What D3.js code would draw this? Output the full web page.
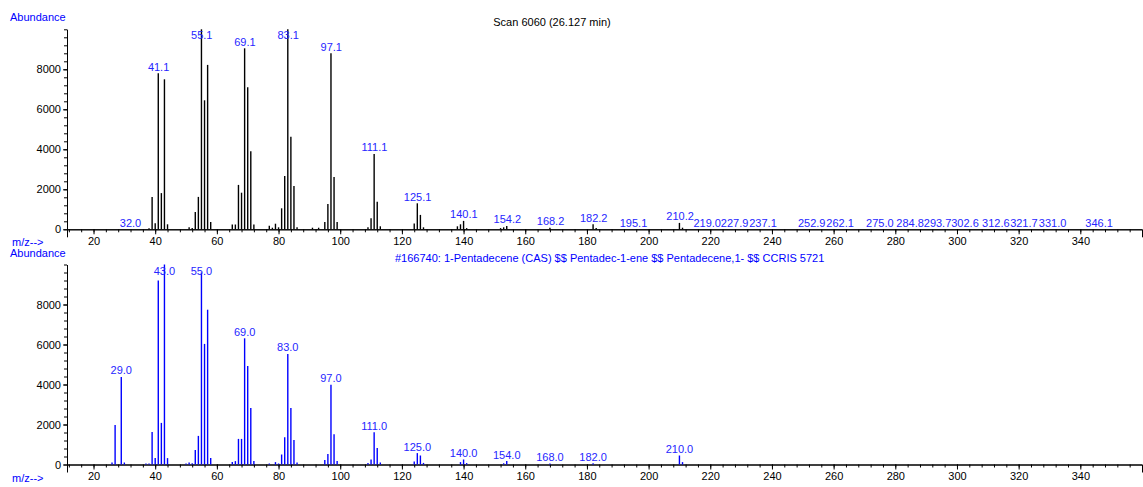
<!doctype html>
<head>
    <title>Scan 6060</title>
    <style>
        body { margin: 0; background: #fff; }
        svg text { font-family: "Liberation Sans", Arial, sans-serif; font-size: 11px; }
    </style>
</head>
<body>
    <div id="my_dataviz"></div>

    <script src="https://d3js.org/d3.v7.min.js"></script>
    <script>
        // tick values
        var xTicks = [20, 40, 60, 80, 100, 120, 140, 160, 180, 200, 220, 240, 260, 280, 300, 320, 340];
        var yTicks = [0, 2000, 4000, 6000, 8000];

        // measured scan (top)
        var scanMz    = [38, 39, 40, 41, 42, 43, 44, 51, 52, 53, 54, 55, 56, 57, 58, 65, 66, 67, 68, 69, 70, 71, 72,
                         77, 78, 79, 80, 81, 82, 83, 84, 85, 86, 91, 93, 95, 96, 97, 98, 99, 109, 110, 111, 112, 113,
                         124, 125, 126, 127, 138, 139, 140, 141, 152, 153, 154, 168, 182, 183, 210, 211];
        var scanAbund = [50, 1620, 300, 7800, 1810, 7500, 250, 100, 60, 860, 1620, 10000, 6450, 8220, 360, 240, 240, 2220, 1830, 9050, 7100, 3900, 240,
                         180, 80, 280, 100, 1050, 2660, 10000, 4630, 2170, 100, 80, 80, 360, 1270, 8800, 2620, 360, 100, 550, 3770, 1380, 150,
                         290, 1300, 720, 100, 150, 250, 420, 60, 60, 100, 170, 80, 250, 60, 320, 80];
        var scanLabels = ["32.0", "41.1", "55.1", "69.1", "83.1", "97.1", "111.1", "125.1", "140.1", "154.2", "168.2", "182.2",
                          "195.1", "210.2", "219.0", "227.9", "237.1", "252.9", "262.1", "275.0", "284.8", "293.7", "302.6",
                          "312.6", "321.7", "331.0", "346.1"];

        // library hit (bottom)
        var libMz    = [26, 27, 29, 30, 37, 38, 39, 40, 41, 42, 43, 44, 50, 51, 52, 53, 54, 55, 56, 57, 58, 65, 66, 67, 68, 69, 70, 71, 72,
                        77, 79, 80, 81, 82, 83, 84, 85, 86, 95, 96, 97, 98, 99, 109, 110, 111, 112, 113,
                        124, 125, 126, 127, 139, 140, 141, 153, 154, 168, 182, 210, 211];
        var libAbund = [100, 1980, 4380, 100, 50, 50, 1630, 320, 9200, 2080, 10000, 320, 50, 100, 60, 720, 1430, 9600, 6030, 7740, 320, 120, 170, 1280, 1280, 6310, 4930, 2820, 170,
                        50, 120, 50, 500, 1360, 5530, 2820, 1230, 100, 220, 520, 3990, 1510, 170, 70, 250, 1610, 820, 100,
                        150, 570, 450, 80, 120, 250, 70, 60, 170, 50, 60, 450, 120];
        var libLabels = ["29.0", "43.0", "55.0", "69.0", "83.0", "97.0", "111.0", "125.0", "140.0", "154.0", "168.0", "182.0", "210.0"];

        var width = 1143, height = 487;
        var svg = d3.select("#my_dataviz")
            .append("svg")
            .attr("width", width)
            .attr("height", height);

        var x = d3.scaleLinear()
            .domain([11.4, 360])
            .range([67, 1142]);

        var minorX = d3.range(12, 360, 4);
        var minorY = d3.range(0, 10001, 400);

        function drawPanel(top, mz, abund, labels, barColor, title, titleColor, titleX, titleAnchor) {
            var base = top + 200;
            var y = d3.scaleLinear().domain([0, 10000]).range([base, top]);

            // minor ticks
            svg.append("g")
                .attr("transform", "translate(0," + base + ")")
                .call(d3.axisBottom(x).tickValues(minorX).tickSize(3).tickSizeOuter(0).tickFormat(""));
            svg.append("g")
                .attr("transform", "translate(67,0)")
                .call(d3.axisLeft(y).tickValues(minorY).tickSize(3).tickSizeOuter(0).tickFormat(""));

            // major ticks
            svg.append("g")
                .attr("transform", "translate(0," + base + ")")
                .call(d3.axisBottom(x).tickValues(xTicks).tickSize(5).tickPadding(3).tickSizeOuter(8));
            svg.append("g")
                .attr("transform", "translate(67,0)")
                .call(d3.axisLeft(y).tickValues(yTicks).tickFormat(d3.format("d"))
                    .tickSize(4).tickPadding(2).tickSizeOuter(0));
            svg.selectAll(".tick text").attr("fill", "#000").style("font-size", "11px")
                .style("font-family", "'Liberation Sans', Arial, sans-serif");
            svg.selectAll(".domain, .tick line").attr("stroke", "#000");

            // peaks
            svg.append("g")
                .selectAll("line")
                .data(mz)
                .enter()
                .append("line")
                .attr("x1", function (d) { return x(d); })
                .attr("x2", function (d) { return x(d); })
                .attr("y1", base)
                .attr("y2", function (d, i) { return y(abund[i]); })
                .attr("stroke", barColor)
                .attr("stroke-width", 1.4);

            // peak labels
            svg.append("g")
                .selectAll("text")
                .data(labels)
                .enter()
                .append("text")
                .attr("x", function (d) { return x(+d); })
                .attr("y", function (d) {
                    var k = mz.indexOf(Math.round(+d));
                    var v = k < 0 ? 0 : abund[k];
                    return Math.max(y(v) - 2.5, top + 10);
                })
                .attr("text-anchor", "middle")
                .attr("fill", "#2626ff")
                .text(function (d) { return d; });

            svg.append("text").attr("x", 10).attr("y", top - 8).attr("fill", "#0000ff").text("Abundance");
            svg.append("text").attr("x", 12).attr("y", base + 17).attr("fill", "#0000ff").text("m/z-->");
            svg.append("text").attr("x", titleX).attr("y", top - 3)
                .attr("text-anchor", titleAnchor)
                .attr("fill", titleColor).text(title);
        }

        drawPanel(29.3, scanMz, scanAbund, scanLabels, "#000", "Scan 6060 (26.127 min)", "#000", 552, "middle");
        drawPanel(264.5, libMz, libAbund, libLabels, "#0000ff",
            "#166740: 1-Pentadecene (CAS) $$ Pentadec-1-ene $$ Pentadecene,1- $$ CCRIS 5721", "#0000ff", 395, "start");
    </script>
</body>
</html>
